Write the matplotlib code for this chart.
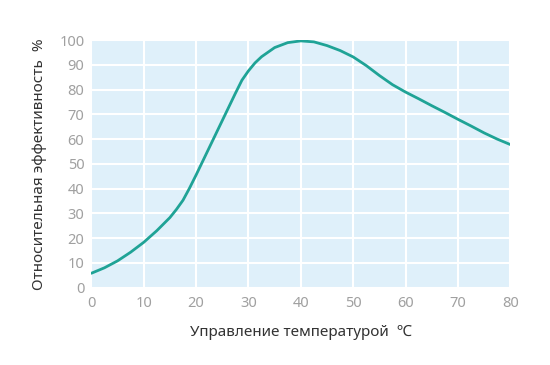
import matplotlib
matplotlib.use("Agg")
import matplotlib.pyplot as plt

# Температура (℃) и относительная эффективность (%)
temperature = [0, 2.5, 5, 7.5, 10, 12.5, 15, 16.25, 17.5, 18.75, 20, 22.5, 25, 27.5,
               28.75, 30, 31.25, 32.5, 35, 37.5, 40, 42.5, 45, 47.5, 50, 52.5, 55,
               57.5, 60, 62.5, 65, 67.5, 70, 72.5, 75, 77.5, 80]
efficiency = [5.8, 8, 10.8, 14.3, 18.3, 23, 28.3, 31.6, 35.3, 40.2, 45.5, 56.5, 67.5, 78.5,
              83.8, 87.6, 90.8, 93.3, 97, 99, 99.7, 99.3, 97.8, 95.8, 93.2, 89.7, 85.7,
              82, 79, 76.3, 73.5, 70.8, 68, 65.3, 62.5, 60, 57.8]

x_ticks = [0, 10, 20, 30, 40, 50, 60, 70, 80]
y_ticks = [0, 10, 20, 30, 40, 50, 60, 70, 80, 90, 100]

plt.rcParams['font.family'] = ['Noto Sans', 'DejaVu Sans']

fig = plt.figure(figsize=(5.5, 3.65), dpi=100)
ax = fig.add_axes([0.166, 0.212, 0.762, 0.678])
ax.set_facecolor('#dff0fa')

ax.plot(temperature, efficiency, color='#1fa396', linewidth=2,
        solid_capstyle='round', solid_joinstyle='round')

ax.set_xlim(0, 80)
ax.set_ylim(0, 100)
ax.set_xticks(x_ticks)
ax.set_yticks(y_ticks)
ax.grid(True, color='white', linewidth=1.5)
ax.set_axisbelow(True)
for s in ax.spines.values():
    s.set_visible(False)
ax.tick_params(length=0, labelsize=10.5, labelcolor='#a0a0a0')
ax.tick_params(axis='x', pad=6)
ax.tick_params(axis='y', pad=5)

ax.set_xlabel('Управление температурой  ℃', fontsize=11, color='#333333', labelpad=10)
ax.set_ylabel('Относительная эффективность  %', fontsize=11, color='#333333', labelpad=9)

fig.savefig('out.png', dpi=100)
